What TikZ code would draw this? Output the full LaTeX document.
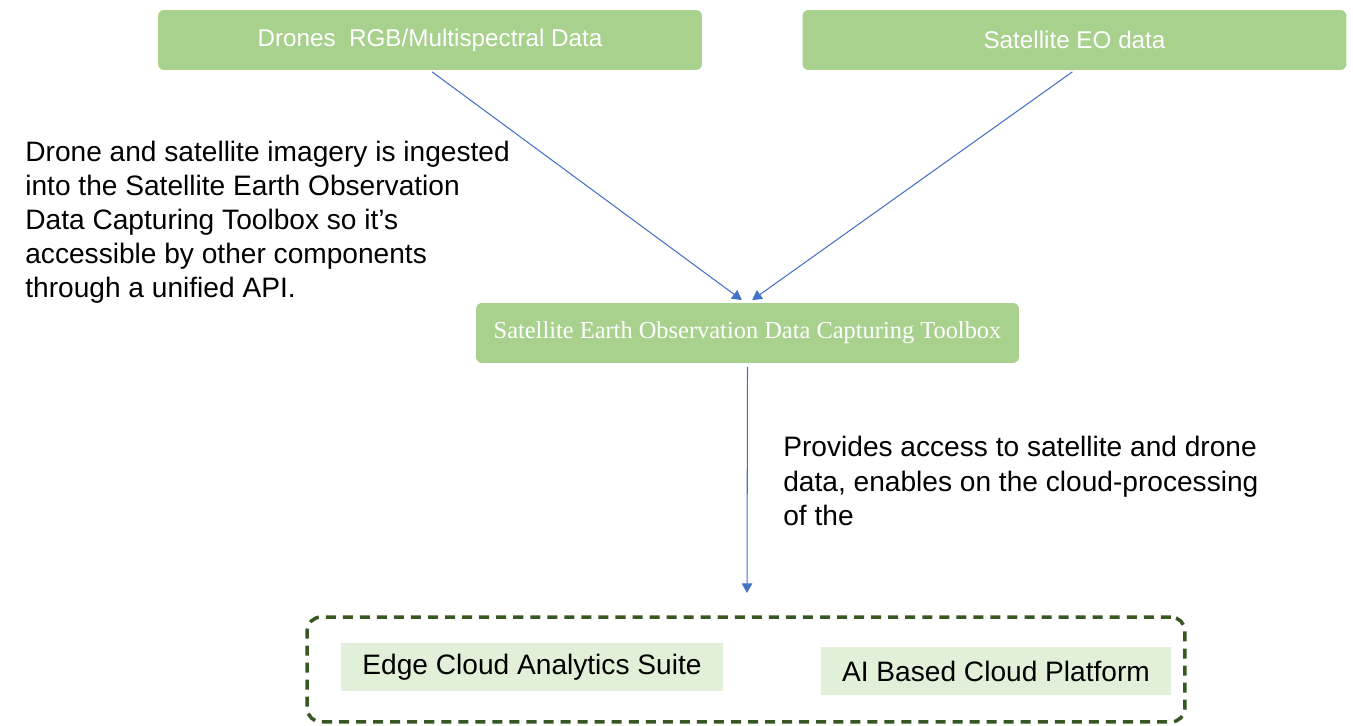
\documentclass[tikz,border=0pt]{standalone}
\usepackage{fontspec}
\setmainfont{Liberation Sans}
\newfontfamily\boxserif{Liberation Serif}
\usepackage{xcolor}
\usetikzlibrary{positioning, arrows.meta}
\definecolor{srcgreen}{HTML}{A9D18E}
\definecolor{appgreen}{HTML}{E2F0D9}
\definecolor{groupgreen}{HTML}{385723}
\definecolor{linkblue}{HTML}{4472C4}
\tikzset{
  srcbox/.style={fill=srcgreen, rounded corners=3.4pt, text=white,
                 minimum width=10.88cm, minimum height=1.2cm,
                 font=\fontsize{13.8}{16}\selectfont},
  appbox/.style={fill=appgreen, minimum height=0.96cm,
                 font=\fontsize{16}{19}\selectfont},
  groupbox/.style={draw=groupgreen, line width=2pt,
                   dash pattern=on 5.7pt off 4pt, rounded corners=8pt,
                   minimum width=17.56cm, minimum height=2.1cm},
  note/.style={align=left, inner sep=0pt, anchor=west,
               font=\fontsize{16}{19.4}\selectfont},
  link/.style={draw=linkblue, line width=0.6pt,
               -{Triangle[length=5.5pt, width=6pt]}}
}
\begin{document}
\begin{tikzpicture}[x=0.02cm, y=-0.02cm]
  \useasboundingbox (0,0) rectangle (1353,726);

  % sources
  \node[srcbox] (drones) at (430,40) {Drones\ \ RGB/Multispectral Data};
  \node[srcbox] (sateo) at (1074.5,40) {Satellite EO data};

  % toolbox
  \node[srcbox, minimum width=10.86cm, font=\boxserif\fontsize{13.9}{16}\selectfont]
    (toolbox) at (747.5,333) {Satellite Earth Observation Data Capturing Toolbox};

  \node[note] (ingest) at (25,222) {Drone and satellite imagery is ingested\\
    into the Satellite Earth Observation\\
    Data Capturing Toolbox so it’s\\
    accessible by other components\\
    through a unified API.};
  \node[note] (access) at (783,481) {Provides access to satellite and drone\\
    data, enables on the cloud-processing\\
    of the};

  % cloud group
  \node[groupbox] (cloud) at (746,669.5) {};
  \node[appbox, minimum width=7.64cm] (edge) at (532,667) {Edge Cloud Analytics Suite};
  \node[appbox, minimum width=7.0cm] (aicloud) at (996,671) {AI Based Cloud Platform};
  \coordinate (cloudin) at (747,593);

  \draw[link, shorten <=1.5pt, shorten >=2.5pt] (drones.south) -- ([xshift=-1.2pt]toolbox.north);
  \draw[link, shorten <=1.5pt, shorten >=2.5pt] (sateo.south) -- ([xshift=0.6pt]toolbox.north);
  \draw[link, shorten <=2pt] (toolbox.south) -- (cloudin);
\end{tikzpicture}
\end{document}
